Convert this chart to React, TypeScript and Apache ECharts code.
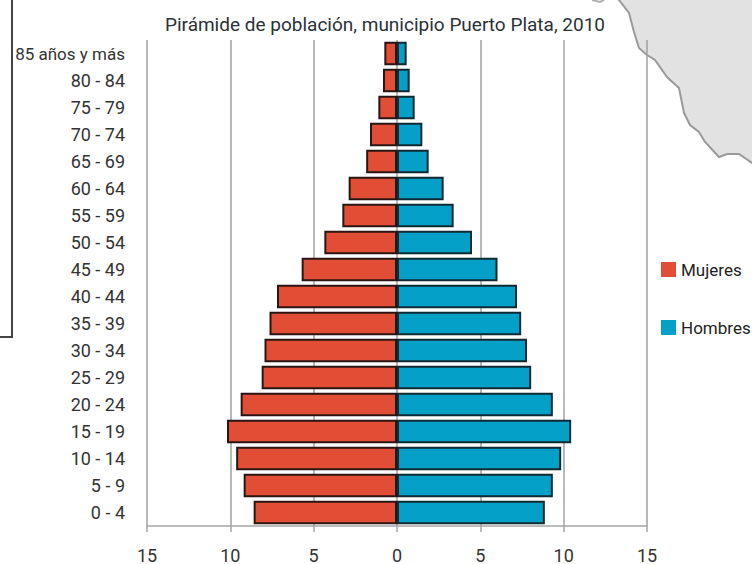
import React, { useEffect, useRef } from "react";
import * as echarts from "echarts";

const categories = ["85 años y más","80 - 84","75 - 79","70 - 74","65 - 69","60 - 64","55 - 59","50 - 54","45 - 49","40 - 44","35 - 39","30 - 34","25 - 29","20 - 24","15 - 19","10 - 14","5 - 9","0 - 4"];
const mujeres = [-0.76,-0.84,-1.12,-1.62,-1.85,-2.9,-3.28,-4.36,-5.72,-7.2,-7.65,-7.95,-8.12,-9.38,-10.2,-9.65,-9.2,-8.6];
const hombres = [0.58,0.76,1.06,1.52,1.9,2.8,3.4,4.5,6.03,7.2,7.45,7.8,8.05,9.35,10.45,9.85,9.35,8.87];
const titleText = "Pirámide de población, municipio Puerto Plata, 2010";
const font = 'Roboto, sans-serif';
const mapOutline = [[612,-5],[619,0],[629,13],[634,32],[639,48],[647,55],[655,60],[667,77],[679,88],[684,113],[690,125],[699,132],[705,142],[719,157],[727,154],[739,154],[752,163],[760,168],[760,-5]];
const mapIslet = [[592,0],[600,2],[604,0]];

export default function App() {
  const ref = useRef<HTMLDivElement>(null);
  useEffect(() => {
    const chart = echarts.init(ref.current!, undefined, { renderer: "svg" });
    chart.setOption({
      animation: false,
      backgroundColor: "#ffffff",
      title: {
        text: titleText, left: 380, top: 10, textAlign: "center",
        textStyle: { fontFamily: font, fontSize: 19, fontWeight: "normal", color: "#2b3138" },
      },
      legend: {
        left: 656, top: 256, orient: "vertical", itemWidth: 15, itemHeight: 15, itemGap: 41,
        icon: "rect",
        data: ["Mujeres", "Hombres"],
        textStyle: { fontFamily: font, fontSize: 17, color: "#222222" },
        itemStyle: { borderWidth: 0 },
      },
      grid: { left: 147, right: 105, top: 40, bottom: 37.5 },
      xAxis: {
        type: "value", min: -15, max: 15, interval: 5,
        axisLine: { show: true, onZero: false, lineStyle: { color: "#a6a6a6", width: 1.5 } },
        axisTick: { show: true, length: 6, lineStyle: { color: "#a6a6a6", width: 1.5 } },
        splitLine: { show: true, lineStyle: { color: "#a0a0a0", width: 1.5 } },
        axisLabel: {
          margin: 20, fontFamily: font, fontSize: 18, color: "#333333",
          formatter: (v: number) => String(Math.abs(v)),
        },
      },
      yAxis: {
        type: "category", data: categories, inverse: true,
        axisLine: { show: false, onZero: false },
        axisTick: { show: false },
        axisLabel: {
          interval: 0, margin: 22, fontFamily: font, fontSize: 18, color: "#333333",
          rich: { s: { fontFamily: font, fontSize: 17, color: "#333333" } },
          formatter: (v: string) => (v.length > 8 ? `{s|${v}}` : v),
        },
      },
      series: [
        { name: "Mujeres", type: "bar", stack: "pop", data: mujeres, barCategoryGap: "13%",
          itemStyle: { color: "#e24e35", borderColor: "#2a1512", borderWidth: 2 } },
        { name: "Hombres", type: "bar", stack: "pop", data: hombres, barCategoryGap: "13%",
          itemStyle: { color: "#04a0c8", borderColor: "#0f2a33", borderWidth: 2 } },
      ],
      graphic: [
        { type: "polygon", silent: true, z: -1, shape: { points: mapOutline },
          style: { fill: "#e2e2e2", stroke: "#9a9a9a", lineWidth: 2 } },
        { type: "polyline", silent: true, shape: { points: mapIslet },
          style: { fill: "none", stroke: "#b0b0b0", lineWidth: 2 } },
        { type: "polyline", silent: true, shape: { points: [[12,-2],[12,337],[-2,337]] },
          style: { fill: "none", stroke: "#444444", lineWidth: 2 } },
      ],
    });
    return () => chart.dispose();
  }, []);
  return <div ref={ref} style={{ position: "fixed", left: 0, top: 0, width: 752, height: 564 }} />;
}
